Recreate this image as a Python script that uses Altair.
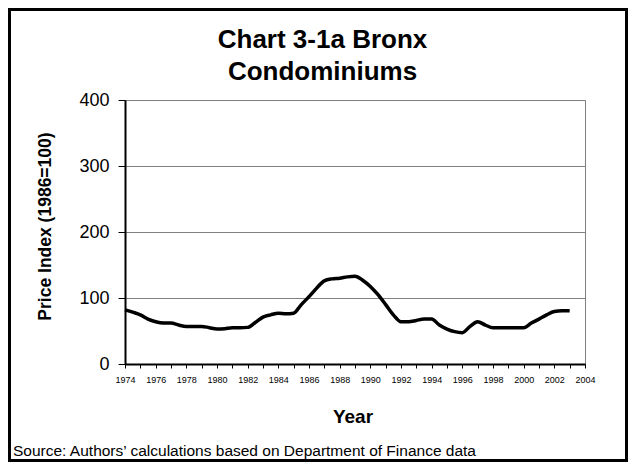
import altair as alt
import pandas as pd

# Semi-annual readings of the Bronx condominium price index (1986=100)
years = [1974 + 0.5 * i for i in range(59)]
index_values = [
    82, 78.5, 74.5, 68, 64, 62, 62, 59, 57, 57,      # 1974.0 - 1978.5
    57, 55, 53, 53.5, 55, 55, 55.5, 63, 71, 74.5,    # 1979.0 - 1983.5
    77, 76, 77, 90, 102, 115, 126, 129, 130, 132,    # 1984.0 - 1988.5
    133, 127, 117.5, 105, 90, 74.5, 64, 64, 66, 68,  # 1989.0 - 1993.5
    68, 59, 53, 49, 47.5, 57, 64, 59, 55, 55,        # 1994.0 - 1998.5
    55, 55, 55, 62, 68, 74.5, 79.5, 80.5, 80.5,      # 1999.0 - 2003.0
]
x_ticks = list(range(1974, 2005))
y_ticks = [0, 100, 200, 300, 400]
title_text = "Chart 3-1a Bronx\nCondominiums"
x_title = "Year"
y_title = "Price Index (1986=100)"
source_note = "Source: Authors\u2019 calculations based on Department of Finance data"

df = pd.DataFrame({"year": years, "index": index_values})

W, H = 460, 264
PL, PT, PR, PB = 117, 92, 43, 98
FONT = "Liberation Sans"

line = alt.Chart(df).mark_line(
    color="black", strokeWidth=3.5, interpolate="monotone"
).encode(
    x=alt.X(
        "year:Q",
        scale=alt.Scale(domain=[1974, 2004], nice=False, zero=False),
        axis=alt.Axis(
            values=x_ticks,
            labelExpr="datum.value % 2 == 0 ? '' + datum.value : ''",
            labelFontSize=9,
            labelFont=FONT,
            labelColor="black",
            labelPadding=7,
            labelOverlap=False,
            labelFlush=False,
            tickSize=4,
            tickColor="black",
            domainColor="black",
            domainWidth=2,
            grid=False,
            title=x_title,
            titleFont=FONT,
            titleFontSize=19,
            titleFontWeight="bold",
            titleColor="black",
            titleX=227.5,
            titleY=58,
            titleAlign="center",
            titleBaseline="alphabetic",
        ),
    ),
    y=alt.Y(
        "index:Q",
        scale=alt.Scale(domain=[0, 400], nice=False),
        axis=alt.Axis(
            values=y_ticks,
            format="d",
            labelFontSize=18,
            labelFont=FONT,
            labelColor="black",
            labelPadding=9,
            tickSize=7,
            tickColor="black",
            domainColor="black",
            domainWidth=2,
            grid=True,
            gridColor="#808080",
            gridWidth=1,
            title=y_title,
            titleFont=FONT,
            titleFontSize=17.5,
            titleFontWeight="bold",
            titleColor="black",
            titleAngle=-90,
            titleX=-80,
            titleY=126,
            titleAlign="center",
            titleBaseline="middle",
        ),
    ),
)

heading = alt.Chart(pd.DataFrame({"t": [title_text]})).mark_text(
    align="center", baseline="alphabetic", fontSize=26, fontWeight="bold",
    font=FONT, color="black", lineBreak="\n", lineHeight=32,
).encode(text="t:N", x=alt.value(197.5), y=alt.value(-52))

note = alt.Chart(pd.DataFrame({"t": [source_note]})).mark_text(
    align="left", baseline="alphabetic", fontSize=15.5, font=FONT, color="black"
).encode(text="t:N", x=alt.value(-112), y=alt.value(356))

frame = alt.Chart(pd.DataFrame({"k": [0]})).mark_rect(
    filled=False, stroke="black", strokeWidth=3
).encode(
    x=alt.value(-PL + 1.5), x2=alt.value(W + PR - 1.5),
    y=alt.value(-PT + 1.5), y2=alt.value(H + PB - 1.5),
)

chart = alt.layer(line, heading, note, frame).properties(
    width=W,
    height=H,
    padding={"left": PL, "top": PT, "right": PR, "bottom": PB},
    autosize=alt.AutoSizeParams(type="none"),
    background="white",
).configure_view(stroke="#808080", strokeWidth=1)

chart.save("out.html", embed_options={"renderer": "svg", "actions": False})
